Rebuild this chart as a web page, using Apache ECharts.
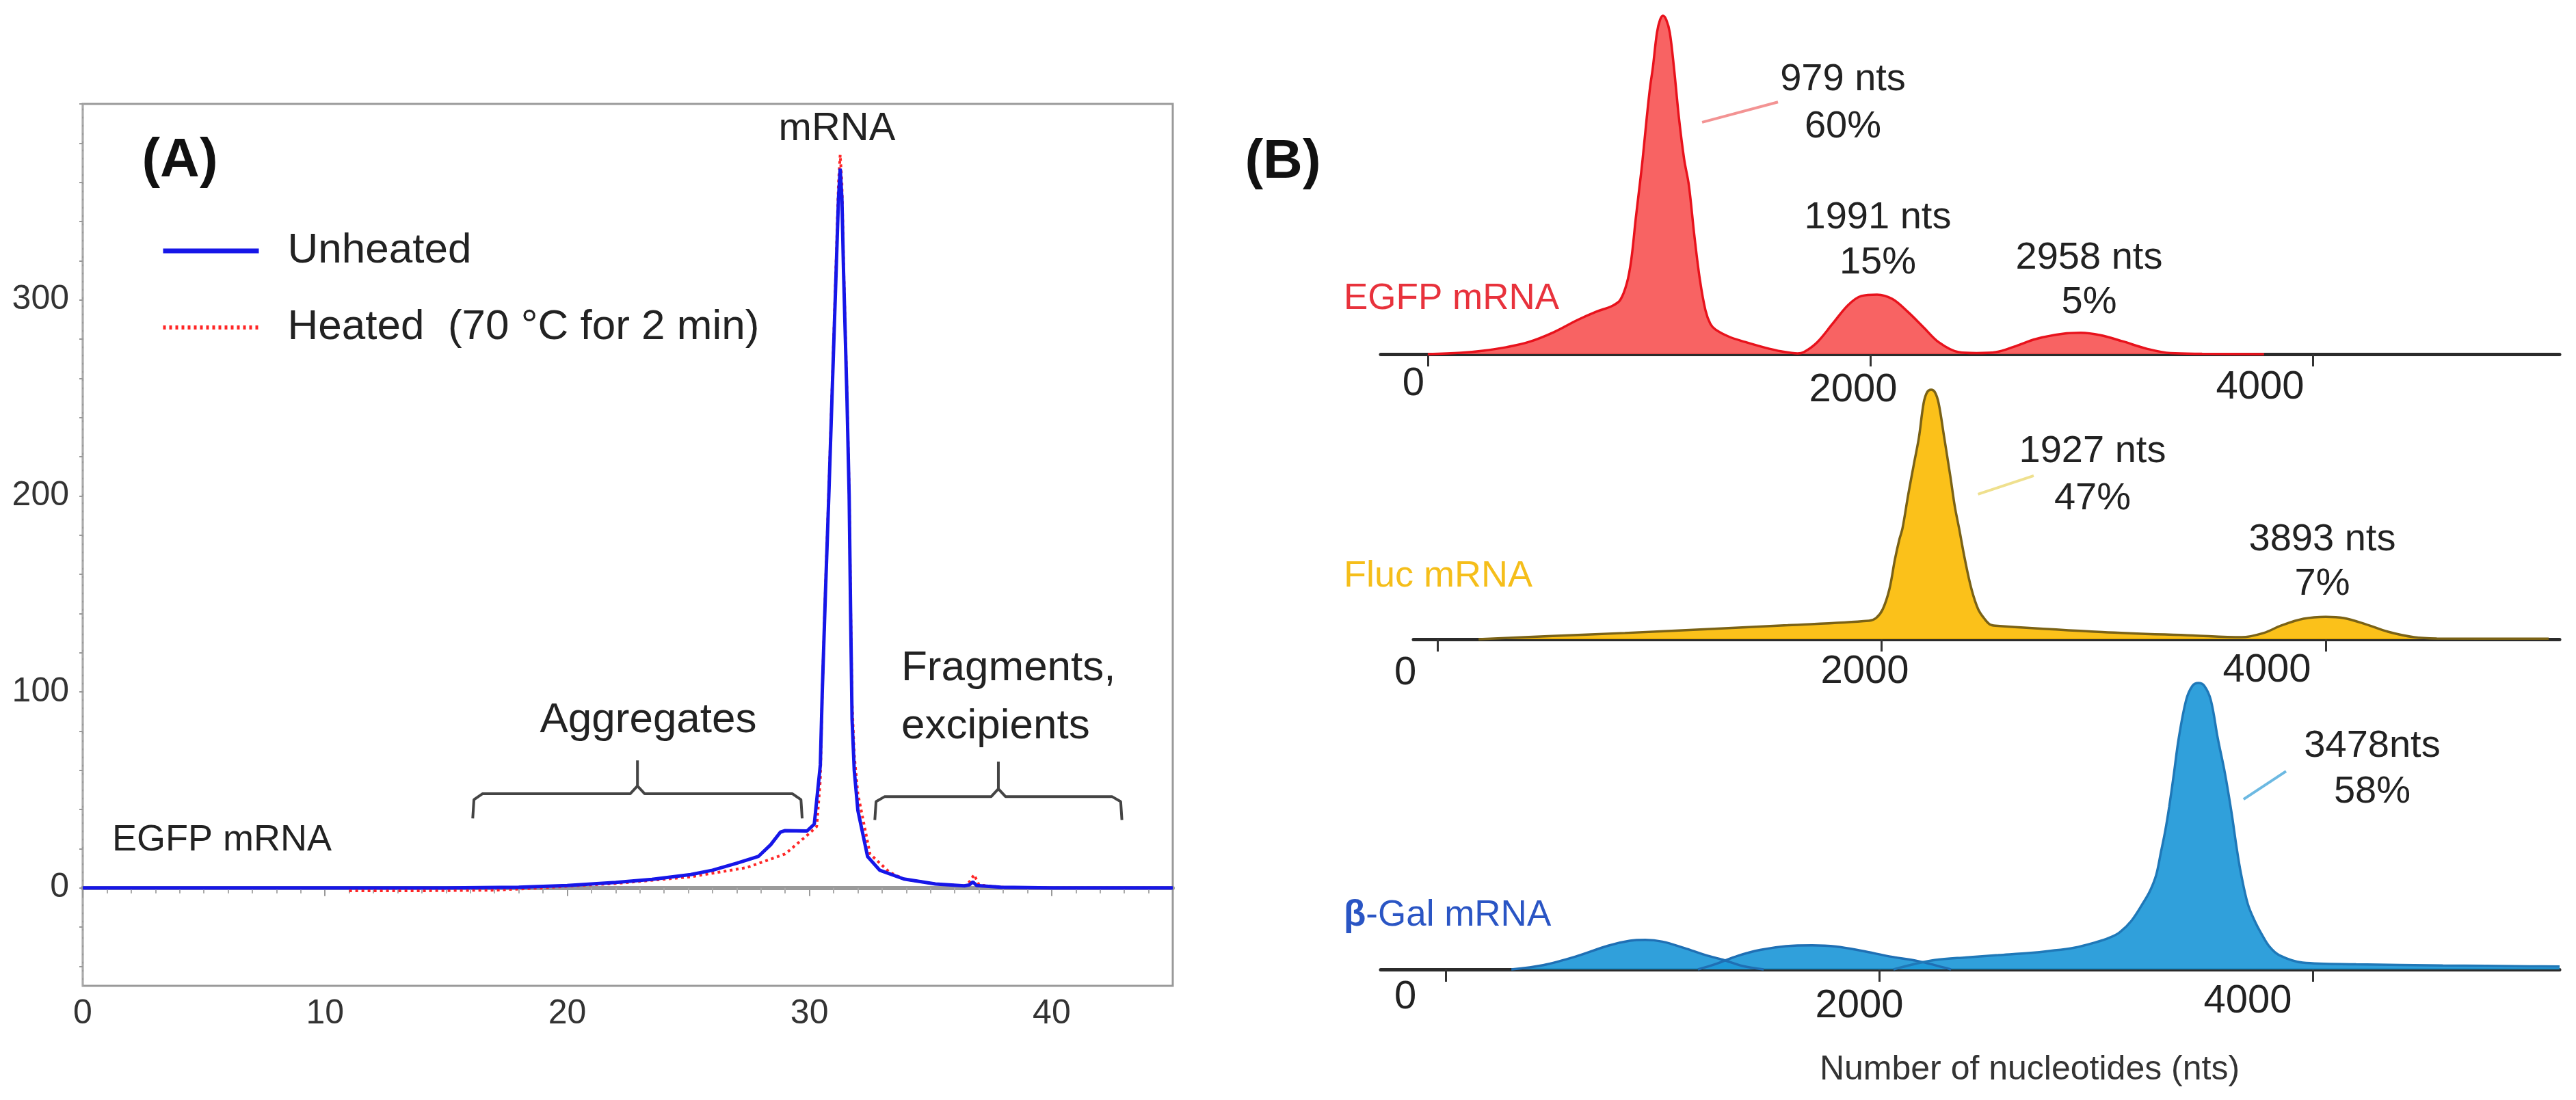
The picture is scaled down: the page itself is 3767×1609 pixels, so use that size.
<!DOCTYPE html>
<html>
<head>
<meta charset="utf-8">
<title>mRNA size profiles</title>
<script src="https://cdn.jsdelivr.net/npm/echarts@6.0.0/dist/echarts.min.js"></script>
<style>
  html, body { margin: 0; padding: 0; background: #fff; }
  #chart { width: 3767px; height: 1609px; }
</style>
</head>
<body>
<div id="chart"></div>
<script>
// ---------- DATA ----------

// (A) SEC trace, x = retention time (min), y = signal
const unheated = [
	[0, 0], [5, 0], [10, 0], [15, 0], [18, 0.3], [20, 1.2], [22, 2.8], [23.5, 4.3],
	[25.1, 6.8], [26, 9], [27, 12.6], [27.9, 16.1], [28.4, 22], [28.8, 28.4], [29.0, 29.2],
	[29.9, 29.0], [30.2, 32.5], [30.45, 62.7], [30.53, 100], [30.66, 150], [30.8, 200],
	[30.93, 249.6], [31.1, 313.6], [31.2, 352], [31.27, 367], [31.34, 352], [31.41, 313.6],
	[31.55, 249.6], [31.64, 200], [31.7, 140], [31.76, 86], [31.85, 60], [32.0, 39.5],
	[32.4, 16], [32.9, 9], [33.9, 4.5], [35.2, 2], [36.4, 1], [36.6, 1.5], [36.75, 3],
	[36.9, 1.2], [37.9, 0.3], [40, 0], [45, 0]
];
const heated = [
	[11, -1.5], [14, -1.5], [17, -1.2], [19, 0], [20, 0.8], [22, 2.2], [25.1, 5.6],
	[27.4, 10.3], [29.0, 17.3], [30.0, 27.8], [30.3, 31.3], [30.45, 55], [30.53, 100],
	[30.66, 152], [30.8, 203], [30.93, 252], [31.1, 318], [31.2, 360], [31.27, 374],
	[31.34, 360], [31.41, 318], [31.55, 252], [31.64, 203], [31.7, 145], [31.76, 95],
	[31.85, 68], [32.0, 48], [32.5, 17.3], [33.3, 8], [33.9, 4.5], [35.2, 2], [36.4, 1],
	[36.6, 3], [36.8, 6.7], [37.0, 1.5], [37.9, 0.3], [40, 0], [45, 0]
];
const aggBracket = [
	[16.1, 35.4], [16.15, 45], [16.5, 48], [22.6, 48], [22.9, 52], [22.9, 65],
	[22.9, 52], [23.2, 48], [29.3, 48], [29.65, 45], [29.7, 35.4]
];
const fragBracket = [
	[32.7, 34.6], [32.75, 44], [33.1, 46.5], [37.5, 46.5], [37.8, 50.5], [37.8, 64.4],
	[37.8, 50.5], [38.1, 46.5], [42.5, 46.5], [42.85, 44], [42.9, 34.6]
];
const aYLabels = [0, 100, 200, 300];
const aYTicks = [-40, -20, 0, 20, 40, 60, 80, 100, 120, 140, 160, 180, 200, 220, 240,
	260, 280, 300, 320, 340, 360, 380, 400];

// (B) size profiles, x = nucleotides, y = relative intensity (main peak = 100)
const egfpProfile = [
	[0, 0], [150, 0.4], [250, 1.0], [350, 2.0], [457, 3.6], [570, 6.5], [677, 10.1],
	[760, 12.5], [835, 14.3], [870, 16], [900, 21], [920, 28], [940, 40], [958, 50],
	[971, 57.5], [990, 70], [1005, 79], [1017, 84.5], [1036, 95], [1050, 98.8], [1063, 100],
	[1078, 98.8], [1094, 95], [1113, 84.5], [1135, 70], [1159, 57.5], [1180, 50],
	[1205, 35], [1230, 22], [1255, 13], [1277, 9], [1300, 7.3], [1360, 5.2],
	[1434, 3.6], [1520, 2], [1600, 0.8], [1672, 0.2],
	[1700, 0.6], [1760, 3.5], [1830, 9], [1900, 14.5], [1960, 17.2], [2031, 17.6],
	[2100, 16.3], [2170, 12.5], [2240, 8], [2310, 3.5], [2399, 0.6],
	[2480, 0.3], [2569, 0.6], [2650, 2.2], [2750, 4.5], [2870, 6.0], [2952, 6.3],
	[3040, 5.6], [3140, 3.8], [3250, 1.6], [3357, 0.3], [3500, 0.1], [3780, 0]
];
const flucProfile = [
	[185, 0], [500, 1.2], [844, 2.5], [1200, 4], [1577, 5.6], [1943, 7.4], [1975, 8.5],
	[2005, 12], [2035, 20], [2060, 32], [2080, 40], [2094, 44.4], [2120, 58], [2145, 70],
	[2168, 80.8], [2189, 94.5], [2205, 99], [2223, 100], [2240, 99], [2257, 94.5],
	[2282, 80.8], [2310, 65], [2330, 53], [2349, 44.4], [2375, 32], [2405, 20],
	[2435, 12], [2465, 8], [2491, 5.8], [2533, 5.3], [2993, 2.9], [3400, 1.5],
	[3621, 0.8], [3720, 2.5], [3800, 5.5], [3900, 8.2], [4000, 9], [4080, 8.5],
	[4180, 6], [4280, 3], [4397, 0.8], [4500, 0.3], [5004, 0.2]
];
const galHump1 = [
	[303, 0], [450, 1.5], [600, 4.5], [750, 8.3], [850, 10], [921, 10.3], [1000, 9.7],
	[1100, 7.5], [1200, 5], [1278, 3.4], [1370, 1.2], [1467, 0]
];
const galHump2 = [
	[1164, 0], [1250, 2], [1350, 4.8], [1450, 6.8], [1570, 8.1], [1691, 8.4], [1800, 8],
	[1920, 6.5], [2050, 4.5], [2180, 2.9], [2331, 0]
];
const galMain = [
	[2066, 0], [2180, 2.2], [2256, 3.3], [2400, 4.2], [2550, 5], [2700, 5.8], [2779, 6.4],
	[2900, 7.6], [3000, 9.5], [3060, 11], [3110, 13], [3164, 17], [3220, 23.5],
	[3250, 27.5], [3278, 33], [3300, 41], [3320, 48.5], [3338, 56.8], [3360, 68.5],
	[3382, 80.7], [3416, 94], [3445, 99], [3473, 100], [3500, 99], [3530, 94],
	[3562, 80.7], [3595, 68.5], [3625, 55], [3650, 42], [3669, 33.5], [3700, 23],
	[3732, 17], [3763, 12.5], [3800, 8], [3845, 5], [3953, 2.4], [4200, 1.8], [4600, 1.4],
	[5000, 1.1], [5139, 1]
];
const egfpLeader = [[1240, 68.5], [1583, 74.5]];
const flucLeader = [[2434, 58.1], [2685, 65.5]];
const galLeader = [[3681, 59.4], [3877, 69.2]];
const bTicks = [0, 2000, 4000];

// ---------- CHART ----------

const FONT = '"Liberation Sans", Arial, Helvetica, sans-serif';
var chart = echarts.init(document.getElementById('chart'));

// per-tick nudges of the (B) axis labels: [padTop, padRight]
function bAxisLabel(nudge) {
	const rich = {};
	bTicks.forEach(function (v, i) {
		rich['t' + i] = {
			fontSize: 58, fontFamily: FONT, color: '#222', lineHeight: 58,
			padding: [nudge[i][0], nudge[i][1], 0, 0]
		};
	});
	return {
		show: true,
		customValues: bTicks,
		margin: 10,
		formatter: function (v) { return '{t' + bTicks.indexOf(Number(v)) + '|' + v + '}'; },
		rich: rich
	};
}

function bXAxis(grid, min, max, nudge) {
	return {
		type: 'value', gridIndex: grid, min: min, max: max,
		axisLine: { show: true, lineStyle: { color: '#2b2b2b', width: 5 } },
		axisTick: { show: true, customValues: bTicks, length: 18, lineStyle: { color: '#333', width: 3 } },
		axisLabel: bAxisLabel(nudge),
		splitLine: { show: false }
	};
}

function bYAxis(grid) {
	return { type: 'value', gridIndex: grid, min: 0, max: 100, show: false };
}

function peakArea(axis, data, line, fill) {
	return {
		type: 'line', xAxisIndex: axis, yAxisIndex: axis, data: data,
		smooth: 0.35, symbol: 'none', clip: false, silent: true,
		lineStyle: { color: line, width: 3.5 },
		areaStyle: { color: fill, opacity: 0.92 }
	};
}

function plainLine(axis, data, color, width) {
	return {
		type: 'line', xAxisIndex: axis, yAxisIndex: axis, data: data,
		symbol: 'none', silent: true, clip: false,
		lineStyle: { color: color, width: width }
	};
}

function label(x, y, text, size, color, align, lineHeight) {
	return {
		type: 'text', x: x, y: y, silent: true,
		style: {
			text: text, fill: color || '#222',
			font: size + 'px ' + FONT,
			align: align || 'center', verticalAlign: 'middle',
			lineHeight: lineHeight || size
		}
	};
}

let option = {
	backgroundColor: '#fff',
	animation: false,
	textStyle: { fontFamily: FONT },
	grid: [
		{ left: 121, top: 152, width: 1594, height: 1290, show: true, borderColor: '#9a9a9a', borderWidth: 3 },
		{ left: 2019, top: 23, width: 1724, height: 495 },
		{ left: 2067, top: 570, width: 1676, height: 365 },
		{ left: 2019, top: 999, width: 1724, height: 419 }
	],
	xAxis: [
		{
			type: 'value', gridIndex: 0, min: 0, max: 45, interval: 10,
			axisLine: { show: true, lineStyle: { color: '#9a9a9a', width: 6 } },
			axisTick: { show: true, length: 12, lineStyle: { color: '#999', width: 2 } },
			minorTick: { show: true, splitNumber: 10, length: 8, lineStyle: { color: '#aaa', width: 2 } },
			axisLabel: { fontSize: 50, color: '#333', margin: 16, showMaxLabel: false },
			splitLine: { show: false }, minorSplitLine: { show: false }
		},
		bXAxis(1, -213, 5116, [[9, 42], [27, 50], [20, 154]]),
		bXAxis(2, -108, 5053, [[22, 94], [17, 49], [14, 172]]),
		bXAxis(3, -300, 5139, [[3, 118], [29, 58], [16, 190]])
	],
	yAxis: [
		{
			type: 'value', gridIndex: 0, min: -50, max: 400, offset: 6,
			axisLine: { show: true, lineStyle: { color: '#aaa', width: 2, type: 'dashed' } },
			axisTick: { show: true, customValues: aYTicks, length: 5, lineStyle: { color: '#999', width: 2 } },
			axisLabel: { customValues: aYLabels, fontSize: 50, color: '#333', margin: 14 },
			splitLine: { show: false }
		},
		bYAxis(1), bYAxis(2), bYAxis(3)
	],
	legend: {
		orient: 'vertical', left: 230, top: 331,
		itemWidth: 140, itemHeight: 24, itemGap: 50,
		selectedMode: false,
		itemStyle: { opacity: 0 },
		textStyle: { fontSize: 62, color: '#222', fontFamily: FONT, lineHeight: 62, padding: [0, 0, 0, 37] },
		data: [
			{ name: 'Unheated', lineStyle: { color: '#1616e8', width: 7 } },
			{ name: 'Heated  (70 °C for 2 min)', lineStyle: { color: '#ff2626', width: 6, type: [4, 5] } }
		]
	},
	series: [
		{
			name: 'Heated  (70 °C for 2 min)', type: 'line', xAxisIndex: 0, yAxisIndex: 0,
			data: heated, symbol: 'none', silent: true,
			lineStyle: { color: '#ff2626', width: 4, type: [4, 5] },
			itemStyle: { color: '#ff2626' }
		},
		{
			name: 'Unheated', type: 'line', xAxisIndex: 0, yAxisIndex: 0,
			data: unheated, symbol: 'none', silent: true,
			lineStyle: { color: '#1616e8', width: 5 },
			itemStyle: { color: '#1616e8' }
		},
		plainLine(0, aggBracket, '#444', 4),
		plainLine(0, fragBracket, '#444', 4),

		peakArea(1, egfpProfile, '#e8121c', '#f75656'),
		plainLine(1, egfpLeader, '#f39393', 4),

		peakArea(2, flucProfile, '#7a6216', '#fbbc06'),
		plainLine(2, flucLeader, '#efe08e', 4),

		peakArea(3, galHump1, '#1f6fb4', '#1e98d8'),
		peakArea(3, galHump2, '#1f6fb4', '#1e98d8'),
		peakArea(3, galMain, '#1f78b8', '#1e98d8'),
		plainLine(3, galLeader, '#6cb9e2', 4)
	],
	graphic: [
		// panel A
		{
			type: 'text', x: 263, y: 236, silent: true,
			style: { text: '(A)', font: 'bold 80px ' + FONT, fill: '#111', align: 'center', verticalAlign: 'middle' }
		},
		label(1224, 189, 'mRNA', 58),
		label(948, 1054, 'Aggregates', 62),
		label(1318, 1020, 'Fragments,\nexcipients', 62, '#222', 'left', 85),
		label(164, 1229, 'EGFP mRNA', 54, '#222', 'left'),

		// panel B
		{
			type: 'text', x: 1876, y: 238, silent: true,
			style: { text: '(B)', font: 'bold 80px ' + FONT, fill: '#111', align: 'center', verticalAlign: 'middle' }
		},
		label(2695, 151, '979 nts\n60%', 56, '#222', 'center', 69),
		label(2746, 352, '1991 nts\n15%', 56, '#222', 'center', 66),
		label(3055, 410, '2958 nts\n5%', 56, '#222', 'center', 65),
		label(3060, 695, '1927 nts\n47%', 56, '#222', 'center', 69),
		label(3396, 822, '3893 nts\n7%', 56, '#222', 'center', 65),
		label(3469, 1125, '3478nts\n58%', 56, '#222', 'center', 67),
		label(1965, 437, 'EGFP mRNA', 53, '#e8323c', 'left'),
		label(1965, 843, 'Fluc mRNA', 54, '#f5be1a', 'left'),
		{
			type: 'text', x: 1965, y: 1339, silent: true,
			style: {
				text: '{b|β}-Gal mRNA', fill: '#2a55c4', font: '53px ' + FONT,
				align: 'left', verticalAlign: 'middle',
				rich: { b: { fontWeight: 'bold', fontSize: 53, fontFamily: FONT, fill: '#2a55c4' } }
			}
		},
		label(2968, 1565, 'Number of nucleotides (nts)', 50, '#333')
	]
};

chart.setOption(option);
</script>
</body>
</html>
